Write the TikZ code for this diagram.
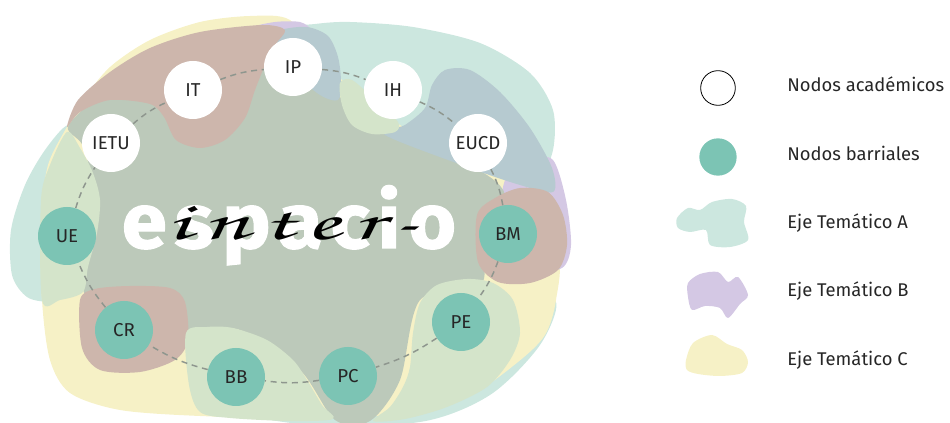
\documentclass[tikz,border=0pt]{standalone}
\usepackage{fontspec}
\setmainfont{Fira Sans}
\newfontfamily\cursive{texgyrechorus-mediumitalic.otf}[LetterSpace=12]
\newfontfamily\heavy{Fira Sans}[LetterSpace=10,BoldFeatures={FakeBold=1.5}]

\definecolor{mintA}{HTML}{CCE7DF}
\definecolor{purpleB}{HTML}{D4C8E4}
\definecolor{yellowC}{HTML}{F6F1C6}
\definecolor{brownBC}{HTML}{CDB6AC}
\definecolor{blueAB}{HTML}{B6CAD0}
\definecolor{greenAC}{HTML}{D4E4CA}
\definecolor{centerABC}{HTML}{BCC9BA}
\definecolor{barrio}{HTML}{7CC4B4}
\definecolor{ringgray}{HTML}{8E968E}
\definecolor{labeltext}{HTML}{262626}

\tikzset{
  academico/.style={circle,fill=white,minimum size=43.5pt,inner sep=0pt,
    font=\fontsize{14}{14}\selectfont,text=labeltext},
  barrial/.style={academico,fill=barrio},
  leyenda/.style={anchor=mid west,inner sep=0pt,font=\fontsize{13.8}{14}\selectfont,text=labeltext},
}

\begin{document}
\begin{tikzpicture}[x=0.75pt,y=-0.75pt]
      \useasboundingbox (0,0) rectangle (950,423);
      \begin{scope}
        \fill[mintA] plot[smooth cycle] coordinates {(283,30) (315,24) (350,22) (413,27) (480,43) (530,73) (553,110) (553,150) (538,178) (500,175) (440,150) (380,130) (330,100) (300,60)};
        \fill[mintA] plot[smooth cycle] coordinates {(68,125) (45,150) (25,185) (11,230) (12,275) (27,297) (50,302) (85,300) (95,250) (95,180) (85,140)};
        \fill[mintA] plot[smooth cycle] coordinates {(180,400) (300,424) (420,422) (490,395) (540,345) (555,300) (500,300) (400,380) (250,390)};
        \fill[yellowC] plot[smooth cycle] coordinates {(68,125) (83,100) (110,67) (150,40) (200,22) (250,16) (290,20) (320,60) (400,125) (510,180) (557,250) (556,300) (545,335) (518,362) (470,395) (400,414) (300,418) (200,416) (120,410) (70,393) (50,360) (42,300) (41,220) (48,165)};
        \fill[purpleB] plot[smooth cycle] coordinates {(505,180) (530,160) (553,160) (566,200) (571,245) (562,268) (530,270) (500,240)};
        \fill[purpleB] plot[smooth cycle] coordinates {(250,28) (275,22) (300,22) (310,30) (290,38) (260,36)};
        \fill[centerABC] plot[smooth cycle] coordinates {(68,127) (100,100) (160,100) (200,110) (240,80) (275,40) (300,60) (330,90) (400,135) (470,165) (505,195) (485,250) (480,285) (420,300) (400,380) (370,421) (335,420) (300,370) (240,330) (185,330) (150,310) (85,295) (95,220) (85,150)};
        \fill[blueAB] plot[smooth cycle] coordinates {(262,40) (280,30) (307,27) (328,36) (338,57) (341,82) (338,100) (320,95) (290,70)};
        \fill[blueAB] plot[smooth cycle] coordinates {(385,135) (405,125) (425,108) (432,85) (445,70) (470,70) (500,92) (530,128) (552,168) (553,192) (520,185) (470,168)};
        \fill[brownBC] plot[smooth cycle] coordinates {(67,127) (78,100) (110,72) (150,48) (200,32) (262,25) (285,30) (275,45) (265,65) (255,90) (245,118) (225,140) (200,148) (176,140) (164,117) (150,104) (110,100) (80,112)};
        \fill[brownBC] plot[smooth cycle] coordinates {(80,300) (95,289) (130,286) (170,288) (185,302) (188,340) (175,360) (140,372) (100,370) (82,348)};
        \fill[brownBC] plot[smooth cycle] coordinates {(477,215) (495,198) (520,188) (548,192) (563,215) (567,245) (558,270) (530,283) (498,282) (478,262)};
        \fill[greenAC] plot[smooth cycle] coordinates {(41,200) (50,165) (67,132) (80,148) (93,173) (100,200) (97,233) (88,267) (83,292) (60,300) (42,300)};
        \fill[greenAC] plot[smooth cycle] coordinates {(186,333) (207,327) (233,328) (267,340) (293,360) (307,380) (322,405) (333,419) (290,421) (230,418) (200,412) (189,385)};
        \fill[greenAC] plot[smooth cycle] coordinates {(373,421) (390,407) (403,387) (410,367) (413,333) (420,303) (437,285) (467,279) (493,283) (513,300) (520,333) (510,360) (487,387) (447,407) (405,419)};
        \fill[greenAC] plot[smooth cycle] coordinates {(340,83) (352,80) (375,100) (398,122) (395,132) (372,134) (352,125) (342,105)};
      \end{scope}
      \node[font=\heavy\bfseries\fontsize{58}{58}\selectfont,text=white,anchor=base] (espacio) at (289,248) {\scalebox{1.05}[1]{espacio}};
      \node[font=\cursive\fontsize{40}{40}\selectfont,anchor=base] (inter) at (292,240) {\scalebox{1.9}[1]{inter-}};
      \begin{scope}[every node/.style={academico}]
        \node (IP) at (293,67) {IP};
        \node (IT) at (193,90) {IT};
        \node (IH) at (393,90) {IH};
        \node (IETU) at (111,143) {IETU};
        \node (EUCD) at (478,143) {EUCD};
      \end{scope}
      \begin{scope}[every node/.style={barrial}]
        \node (UE) at (67,236) {UE};
        \node (BM) at (508,234) {BM};
        \node (CR) at (124,330) {CR};
        \node (PE) at (461,322) {PE};
        \node (BB) at (236,377) {BB};
        \node (PC) at (348,376) {PC};
      \end{scope}
      \begin{scope}[every edge/.style={draw=ringgray,line width=1.1pt,dash pattern=on 4.5pt off 3.5pt}]
        \path (IP) edge[bend left=8] (IH);
        \path (IH) edge[bend left=8] (EUCD);
        \path (EUCD) edge[bend left=8] (BM);
        \path (BM) edge[bend left=8] (PE);
        \path (PE) edge[bend left=8] (PC);
        \path (PC) edge[bend left=8] (BB);
        \path (BB) edge[bend left=8] (CR);
        \path (CR) edge[bend left=8] (UE);
        \path (UE) edge[bend left=8] (IETU);
        \path (IETU) edge[bend left=8] (IT);
        \path (IT) edge[bend left=8] (IP);
      \end{scope}
      \node[circle,draw=black,line width=0.6pt,minimum size=26pt] (legacad) at (718,88) {};
      \node[circle,fill=barrio,minimum size=28pt] (legbarr) at (718,157) {};
      \fill[mintA] plot[smooth cycle] coordinates {(677,218) (688,208) (700,210) (712,202) (732,199) (746,206) (744,222) (748,240) (730,247) (710,245) (706,230) (690,232) (678,228)};
      \fill[purpleB] plot[smooth cycle] coordinates {(688,283) (700,274) (718,272) (728,282) (738,277) (748,295) (740,304) (728,318) (720,308) (705,306) (692,310) (688,297)};
      \fill[yellowC] plot[smooth cycle] coordinates {(686,360) (693,343) (712,335) (727,344) (742,350) (748,362) (742,373) (720,376) (698,374) (687,370)};
      \node[leyenda] (txtacad) at (787,88) {Nodos académicos};
      \node[leyenda] (txtbarr) at (787,157) {Nodos barriales};
      \node[leyenda] (txtA) at (787,225) {Eje Temático A};
      \node[leyenda] (txtB) at (787,293) {Eje Temático B};
      \node[leyenda] (txtC) at (787,362) {Eje Temático C};
\end{tikzpicture}
\end{document}
